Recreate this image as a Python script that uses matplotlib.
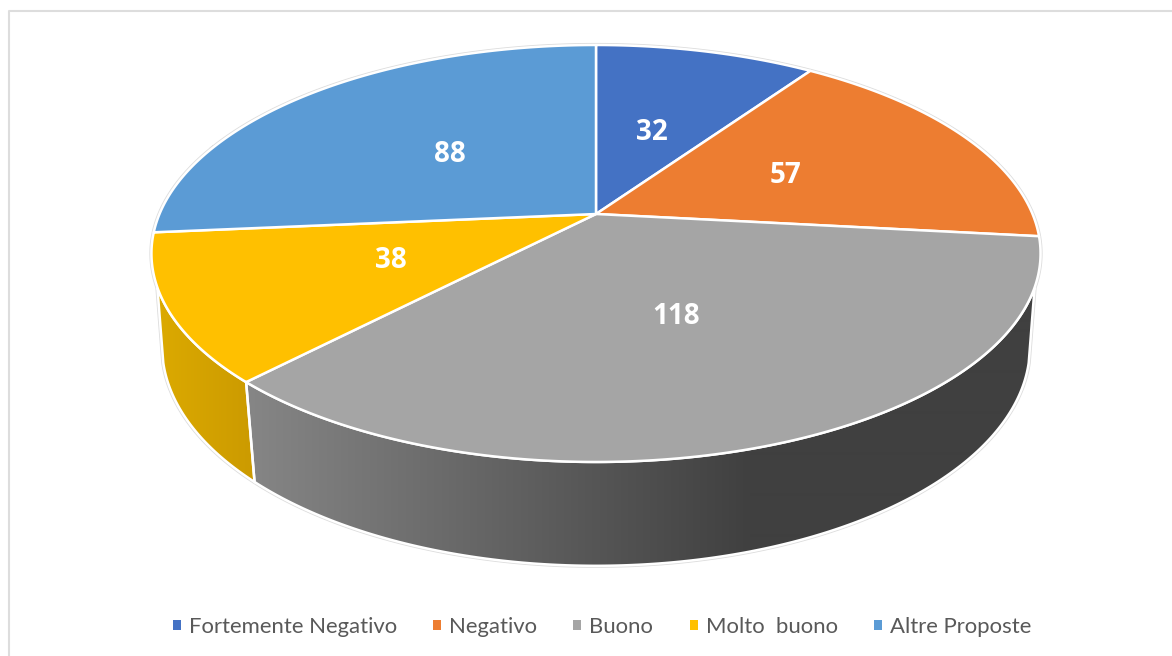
import matplotlib
matplotlib.use("Agg")
import matplotlib.pyplot as plt
import numpy as np
from matplotlib.patches import Patch, Polygon

plt.rcParams["font.family"] = ["Lato", "DejaVu Sans"]

categories = ["Fortemente Negativo", "Negativo", "Buono", "Molto  buono", "Altre Proposte"]
values = [32, 57, 118, 38, 88]
colors = ["#4472C4", "#ED7D31", "#A5A5A5", "#FFC000", "#5B9BD5"]

# perspective of the tilted disc, in picture pixels
CX = 596
TOP_PLANE = (214, 436.5, 201)
BOTTOM_PLANE = (305.5, 426, 211)
TILT = 0.1894
LABEL_RADII = [0.47, 0.495, 0.49, 0.5, 0.48]


def project(theta, plane, r=1.0):
    """Clockwise angle from 12 o'clock (degrees) to pixel position on a plane."""
    y0, a, b = plane
    t = np.radians(theta)
    x = r * np.sin(t)
    y = r * np.cos(t)
    w = 1 + TILT * y
    return CX + a * x / w, y0 - b * y / w


def arc(start, end, plane):
    t = np.linspace(start, end, 200)
    return np.column_stack(project(t, plane))


def gradient_side(ax, points, x_stops, color_stops):
    """Fill a polygon with a horizontal colour gradient, clipped to its outline."""
    xs = np.arange(0, 1172)
    rgb = np.array([matplotlib.colors.to_rgb(c) for c in color_stops])
    row = np.column_stack([np.interp(xs, x_stops, rgb[:, i]) for i in range(3)])
    im = ax.imshow(row[np.newaxis, :, :], extent=(0, 1172, 656, 0), aspect="auto",
                   interpolation="bilinear", zorder=2)
    outline = Polygon(points, closed=True, facecolor="none", edgecolor="white", lw=1.8, zorder=3)
    ax.add_patch(outline)
    im.set_clip_path(outline)


fig = plt.figure(figsize=(11.72, 6.56), dpi=100)
ax = fig.add_axes([0, 0, 1, 1])
ax.set_xlim(0, 1172)
ax.set_ylim(656, 0)
ax.axis("off")

# chart frame: only the left and top edges are in the crop
ax.plot([8.5, 8.5, 1172], [656, 10.5, 10.5], color="#DDDDDD", lw=1.5, zorder=0)

edges = np.concatenate([[0], np.cumsum(values)]) / np.sum(values) * 360

# silhouette halo behind the whole solid
halo = np.vstack([arc(-70, 110, TOP_PLANE), arc(105, 255, BOTTOM_PLANE), arc(250, 290, TOP_PLANE)])
ax.add_patch(Polygon(halo, closed=True, facecolor="white", edgecolor="#DDDDDD", lw=3.0, zorder=1))

# visible side walls: Buono and Molto buono
grey_side = np.vstack([arc(110, edges[3], TOP_PLANE), arc(edges[3], 105, BOTTOM_PLANE)])
gradient_side(ax, grey_side, [247, 750, 1040], ["#868686", "#404040", "#404040"])
yellow_side = np.vstack([arc(edges[3], 250, TOP_PLANE), arc(255, edges[3], BOTTOM_PLANE)])
gradient_side(ax, yellow_side, [155, 257], ["#DCAA00", "#CB9A00"])

# top face
for start, end, color in zip(edges[:-1], edges[1:], colors):
    rim = arc(start, end, TOP_PLANE)
    centre = [[CX, TOP_PLANE[0]]]
    ax.add_patch(Polygon(np.vstack([centre, rim]), closed=True, facecolor=color,
                         edgecolor="white", lw=1.8, joinstyle="round", zorder=4))

# value labels about halfway along each slice
for start, end, value, r in zip(edges[:-1], edges[1:], values, LABEL_RADII):
    lx, ly = project((start + end) / 2, TOP_PLANE, r=r)
    ax.text(lx, ly + 1.5, str(value), color="white", fontsize=20, fontweight="bold",
            family="Open Sans", ha="center", va="center", zorder=5)

handles = [Patch(facecolor=c, edgecolor="none", label=n) for n, c in zip(categories, colors)]
ax.legend(handles=handles, loc="center", bbox_to_anchor=(602 / 1172, 1 - 627 / 656), ncol=5,
          frameon=False, fontsize=15.9, labelcolor="#595959", handlelength=0.36, handleheight=0.36,
          handletextpad=0.36, columnspacing=1.64, borderpad=0)

fig.savefig("out.png", dpi=100)
plt.close(fig)
